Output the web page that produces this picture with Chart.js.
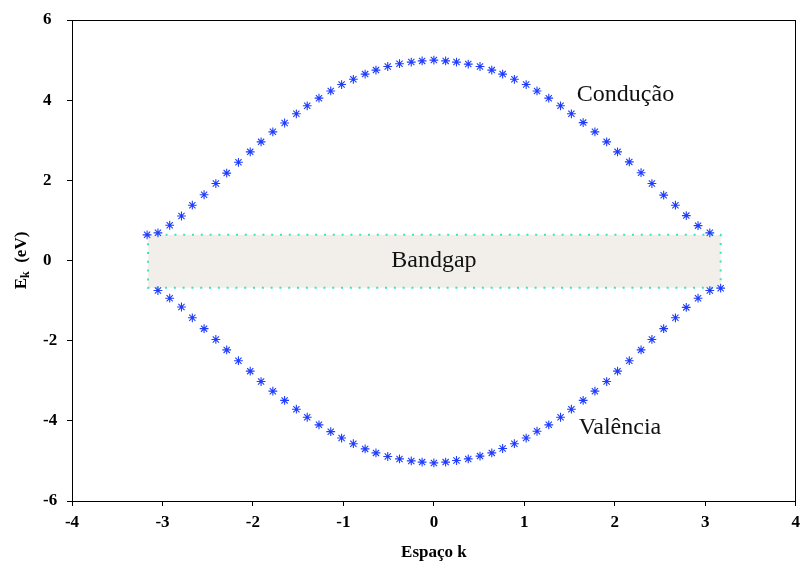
<!DOCTYPE html>
<html>
<head>
<meta charset="utf-8">
<title>Bandas de energia</title>
<script src="https://cdn.jsdelivr.net/npm/chart.js@4.4.1/dist/chart.umd.min.js"></script>
<style>
  html, body { margin: 0; padding: 0; background: #fff; }
</style>
</head>
<body>
<canvas id="bandChart" width="806" height="570"></canvas>
<script>
// banda de condução
const kCond = [-3.17, -3.05, -2.92, -2.79, -2.67, -2.54, -2.41, -2.29, -2.16, -2.03,
               -1.91, -1.78, -1.65, -1.52, -1.40, -1.27, -1.14, -1.02, -0.89, -0.76,
               -0.64, -0.51, -0.38, -0.25, -0.13, 0.00, 0.13, 0.25, 0.38, 0.51,
               0.64, 0.76, 0.89, 1.02, 1.14, 1.27, 1.40, 1.52, 1.65, 1.78,
               1.91, 2.03, 2.16, 2.29, 2.41, 2.54, 2.67, 2.79, 2.92, 3.05];
const eCond = [0.64, 0.69, 0.88, 1.11, 1.38, 1.64, 1.92, 2.18, 2.45, 2.71,
               2.96, 3.21, 3.43, 3.66, 3.86, 4.05, 4.23, 4.39, 4.52, 4.65,
               4.75, 4.84, 4.91, 4.95, 4.98, 5.00, 4.98, 4.95, 4.90, 4.84,
               4.75, 4.65, 4.52, 4.39, 4.23, 4.05, 3.86, 3.66, 3.44, 3.21,
               2.96, 2.71, 2.46, 2.19, 1.92, 1.63, 1.38, 1.12, 0.87, 0.69];

// banda de valência
const kVal = [-3.05, -2.92, -2.79, -2.67, -2.54, -2.41, -2.29, -2.16, -2.03, -1.91,
              -1.78, -1.65, -1.52, -1.40, -1.27, -1.14, -1.02, -0.89, -0.76, -0.64,
              -0.51, -0.38, -0.25, -0.13, 0.00, 0.13, 0.25, 0.38, 0.51, 0.64,
              0.76, 0.89, 1.02, 1.14, 1.27, 1.40, 1.52, 1.65, 1.78, 1.91,
              2.03, 2.16, 2.29, 2.41, 2.54, 2.67, 2.79, 2.92, 3.05, 3.17];
const eVal = [-0.75, -0.94, -1.16, -1.43, -1.70, -1.97, -2.23, -2.50, -2.76, -3.02,
              -3.26, -3.49, -3.71, -3.91, -4.10, -4.27, -4.43, -4.57, -4.70, -4.80,
              -4.89, -4.95, -5.00, -5.03, -5.05, -5.03, -4.99, -4.95, -4.88, -4.80,
              -4.69, -4.57, -4.43, -4.26, -4.10, -3.91, -3.71, -3.49, -3.26, -3.02,
              -2.76, -2.50, -2.23, -1.97, -1.70, -1.43, -1.17, -0.94, -0.75, -0.69];

// faixa proibida (k inicial/final, E superior/inferior)
const gapK = [-3.16, 3.17];
const gapE = [0.64, -0.68];

// eixos
const xRange = [-4, 4];
const yRange = [-6, 6];

// textos dentro do gráfico
const noteText = ['Condução', 'Bandgap', 'Valência'];
const noteK = [1.58, 0.0, 1.60];
const noteE = [3.98, -0.15, -4.33];
const noteAlign = ['left', 'center', 'left'];

const serif = '"Liberation Serif", "Times New Roman", serif';
const starBlue = '#1f3dff';

const bandgapBox = {
  id: 'bandgapBox',
  beforeDatasetsDraw(chart) {
    const { ctx, scales: { x, y } } = chart;
    const x0 = x.getPixelForValue(gapK[0]);
    const x1 = x.getPixelForValue(gapK[1]);
    const y0 = y.getPixelForValue(gapE[0]);
    const y1 = y.getPixelForValue(gapE[1]);
    ctx.save();
    ctx.fillStyle = '#f2efea';
    ctx.fillRect(x0, y0, x1 - x0, y1 - y0);
    ctx.strokeStyle = '#3ae4c2';
    ctx.lineWidth = 2;
    ctx.setLineDash([2, 6.8]);
    ctx.strokeRect(x0, y0, x1 - x0, y1 - y0);
    ctx.restore();
  }
};

const frameAndText = {
  id: 'frameAndText',
  afterDraw(chart) {
    const { ctx, chartArea: a, scales: { x, y } } = chart;
    ctx.save();

    // moldura completa
    ctx.strokeStyle = '#000';
    ctx.lineWidth = 1;
    ctx.strokeRect(Math.round(a.left) + 0.5, Math.round(a.top) + 0.5,
                   Math.round(a.right - a.left) - 1, Math.round(a.bottom - a.top));

    // rótulos das bandas
    ctx.fillStyle = '#111';
    ctx.font = '24px ' + serif;
    ctx.textBaseline = 'alphabetic';
    noteText.forEach((t, i) => {
      ctx.textAlign = noteAlign[i];
      ctx.fillText(t, x.getPixelForValue(noteK[i]), y.getPixelForValue(noteE[i]));
    });

    // título do eixo y: E com índice k
    ctx.translate(22, (a.top + a.bottom) / 2);
    ctx.rotate(-Math.PI / 2);
    ctx.fillStyle = '#000';
    ctx.textAlign = 'left';
    ctx.textBaseline = 'middle';
    const big = 'bold 17px ' + serif;
    const small = 'bold 12px ' + serif;
    ctx.font = big;
    const wE = ctx.measureText('E').width;
    const wRest = ctx.measureText('  (eV)').width;
    ctx.font = small;
    const wK = ctx.measureText('k').width;
    let px = -(wE + wK + wRest) / 2;
    ctx.font = big;
    ctx.fillText('E', px, 0);
    px += wE;
    ctx.font = small;
    ctx.fillText('k', px, 4);
    px += wK;
    ctx.font = big;
    ctx.fillText('  (eV)', px, 0);

    ctx.restore();
  }
};

new Chart(document.getElementById('bandChart'), {
  type: 'scatter',
  data: {
    datasets: [
      {
        label: 'Condução',
        data: kCond.map((k, i) => ({ x: k, y: eCond[i] })),
        pointStyle: 'star',
        pointRadius: 4.4,
        borderWidth: 1.1,
        borderColor: starBlue,
        backgroundColor: starBlue
      },
      {
        label: 'Valência',
        data: kVal.map((k, i) => ({ x: k, y: eVal[i] })),
        pointStyle: 'star',
        pointRadius: 4.4,
        borderWidth: 1.1,
        borderColor: starBlue,
        backgroundColor: starBlue
      }
    ]
  },
  options: {
    responsive: false,
    animation: false,
    layout: { padding: { left: 43, top: 20, right: 9, bottom: 0 } },
    plugins: {
      legend: { display: false },
      tooltip: { enabled: false }
    },
    scales: {
      x: {
        type: 'linear',
        min: xRange[0],
        max: xRange[1],
        afterFit(scale) { scale.height = 69; },
        grid: { drawOnChartArea: false, tickLength: 5, color: '#000' },
        border: { color: '#000', width: 1 },
        ticks: {
          stepSize: 1,
          padding: 6,
          color: '#000',
          font: { family: serif, size: 17, weight: 'bold' }
        },
        title: {
          display: true,
          text: 'Espaço k',
          color: '#000',
          padding: { top: 4, bottom: 7 },
          font: { family: serif, size: 17, weight: 'bold' }
        }
      },
      y: {
        type: 'linear',
        min: yRange[0],
        max: yRange[1],
        afterFit(scale) { scale.width = 29; },
        grid: { drawOnChartArea: false, tickLength: 5, color: '#000' },
        border: { color: '#000', width: 1 },
        ticks: {
          stepSize: 2,
          crossAlign: 'far',
          color: '#000',
          font: { family: serif, size: 17, weight: 'bold' }
        }
      }
    }
  },
  plugins: [bandgapBox, frameAndText]
});
</script>
</body>
</html>
